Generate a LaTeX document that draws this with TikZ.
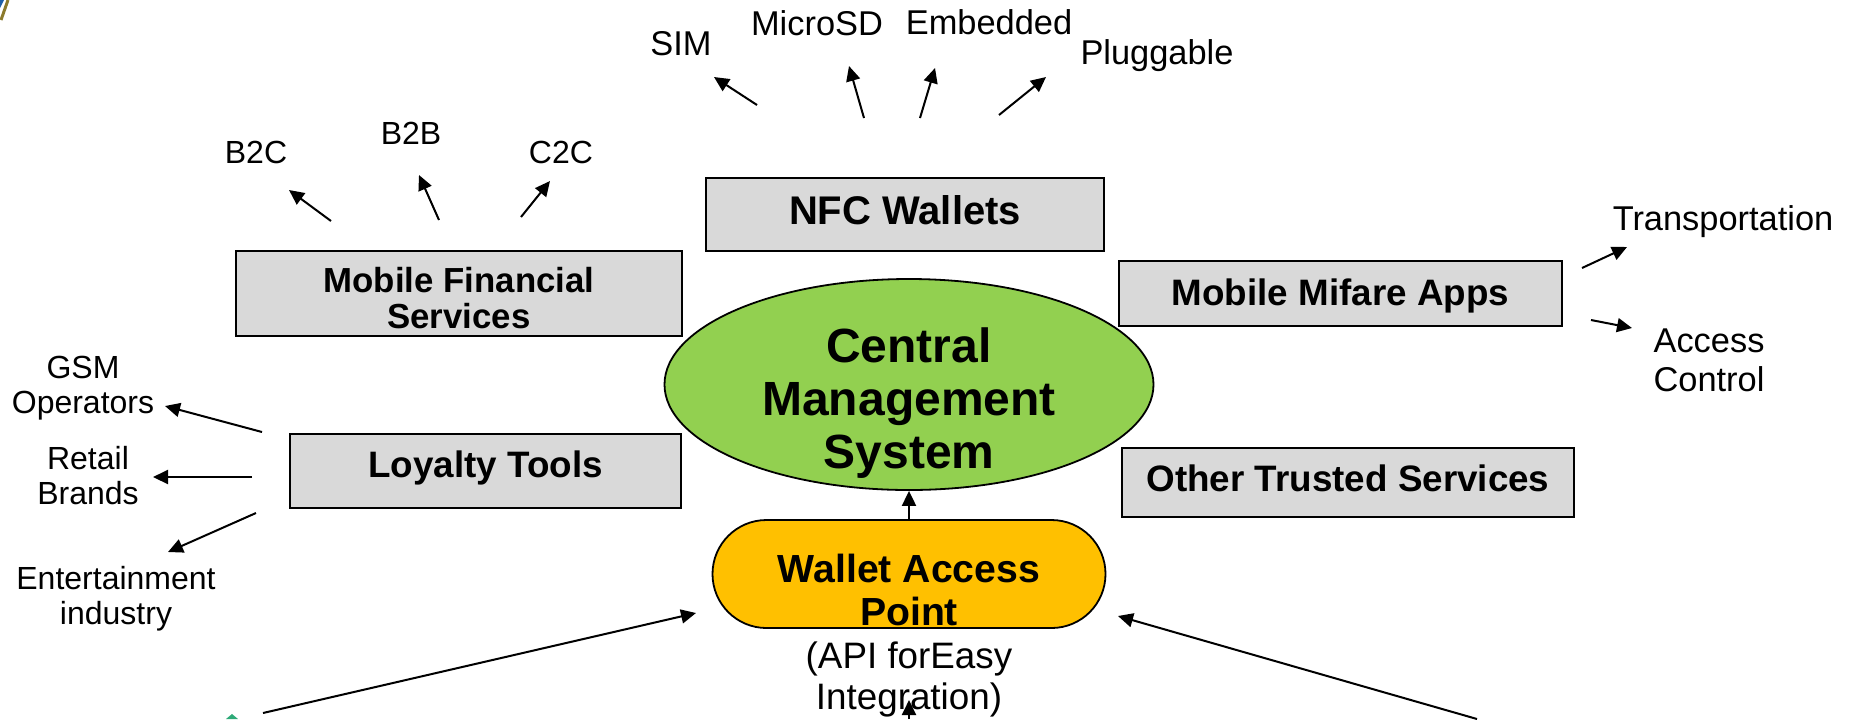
\documentclass[tikz,border=0pt]{standalone}
\usepackage{fontspec}
\setmainfont{Liberation Sans}
\usetikzlibrary{shapes, arrows.meta}
\definecolor{boxgray}{HTML}{D9D9D9}
\definecolor{cmsgreen}{HTML}{92D050}
\definecolor{wapgold}{HTML}{FFC000}
\definecolor{cornerolive}{HTML}{8B7A2C}
\definecolor{cornerblue}{HTML}{1F5FA8}
\definecolor{cornergreen}{HTML}{2EAA78}

\begin{document}
\begin{tikzpicture}[x=0.5pt, y=-0.5pt,
	box/.style={draw, line width=1pt, fill=boxgray, inner sep=0pt, align=center,
		font=\bfseries\fontsize{18.4}{20}\selectfont},
	lbl/.style={inner sep=0pt, align=center, font=\fontsize{16}{17.5}\selectfont},
	toplbl/.style={lbl, font=\fontsize{17.2}{19.5}\selectfont},
	arr/.style={-{Triangle[length=7.5pt,width=7pt]}, line width=1pt}]
	\useasboundingbox (0,0) rectangle (1851,719);
	% bits of the slide frame
	\fill[cornerblue] (0,0) -- (4,0) -- (0,8) -- cycle;
	\draw[cornerolive, line width=1.5pt] (8,0) -- (1,20);
	\fill[cornergreen] (226,719) -- (232,714) -- (238,719) -- cycle;

	% boxes
	\node[box, minimum width=199pt, minimum height=36.5pt, text depth=5pt,
		font=\bfseries\fontsize{20}{22}\selectfont] (nfc) at (905,214.5) {NFC Wallets};
	\node[box, minimum width=223pt, minimum height=42.5pt] (mfs) at (459,293.5) {};
	\node[align=center, inner sep=0pt, font=\bfseries\fontsize{17.4}{18}\selectfont]
		(mfstext) at (459,298.5) {Mobile Financial\\Services};
	\node[box, minimum width=195.5pt, minimum height=37pt, text depth=7.3pt] (loyalty) at (485.5,471) {Loyalty Tools};
	\node[box, minimum width=221.5pt, minimum height=32.5pt, text depth=1.4pt] (mifare) at (1340.5,293.5) {Mobile Mifare Apps};
	\node[box, minimum width=226pt, minimum height=34.5pt, text depth=4.8pt] (trusted) at (1348,482.5) {Other Trusted Services};

	% centre
	\node[ellipse, draw, line width=0.9pt, fill=cmsgreen, inner sep=0pt,
		minimum width=244.5pt, minimum height=105.5pt] (cms) at (909,384.5) {};
	\node[align=center, inner sep=0pt, font=\bfseries\fontsize{24}{26.3}\selectfont]
		(cmstext) at (909,403) {Central\\Management\\System};
	\node[rounded rectangle, draw, line width=0.9pt, fill=wapgold, inner sep=0pt,
		minimum width=196.5pt, minimum height=54pt] (wap) at (909,574) {};
	\node[align=center, inner sep=0pt, font=\bfseries\fontsize{19.6}{21.5}\selectfont]
		(waptext) at (909,590) {Wallet Access\\Point};
	\node[lbl, font=\fontsize{18.4}{20.5}\selectfont] (api) at (909,679) {(API forEasy\\Integration)};

	% outer labels
	\node[toplbl] (sim) at (681,44) {SIM};
	\node[toplbl] (microsd) at (817,23) {MicroSD};
	\node[toplbl] (embedded) at (989,22) {Embedded};
	\node[toplbl] (pluggable) at (1157,56) {Pluggable};
	\node[lbl] (b2c) at (256,152) {B2C};
	\node[lbl] (b2b) at (411,133) {B2B};
	\node[lbl] (c2c) at (561,152) {C2C};
	\node[lbl] (gsm) at (83,388.5) {GSM\\Operators};
	\node[lbl] (retail) at (88,476) {Retail\\Brands};
	\node[lbl] (entertain) at (116,599) {Entertainment\\industry};
	\node[toplbl] (transport) at (1723,222) {Transportation};
	\node[toplbl] (access) at (1709,360) {Access\\Control};

	% arrow ends
	\coordinate (simfrom) at (757,105);       \coordinate (simto) at (714,77);
	\coordinate (microsdfrom) at (864,118);   \coordinate (microsdto) at (849,66);
	\coordinate (embeddedfrom) at (920,118);  \coordinate (embeddedto) at (935,68);
	\coordinate (pluggablefrom) at (999,115); \coordinate (pluggableto) at (1046,77);
	\coordinate (b2cfrom) at (331,221);       \coordinate (b2cto) at (289,190);
	\coordinate (b2bfrom) at (439,220);       \coordinate (b2bto) at (419,175);
	\coordinate (c2cfrom) at (521,217);       \coordinate (c2cto) at (550,181);
	\coordinate (gsmfrom) at (262,432);       \coordinate (gsmto) at (165,406);
	\coordinate (retailfrom) at (252,477);    \coordinate (retailto) at (153,477);
	\coordinate (entfrom) at (256,513);       \coordinate (entto) at (168,552);
	\coordinate (transfrom) at (1582,268);    \coordinate (transto) at (1627,247);
	\coordinate (accessfrom) at (1591,320);   \coordinate (accessto) at (1632,328);
	\coordinate (apifrom) at (909,719);       \coordinate (apito) at (909,700);
	\coordinate (leftfrom) at (263,713);      \coordinate (leftto) at (696,613);
	\coordinate (rightfrom) at (1477,719);    \coordinate (rightto) at (1118,616);

	\draw[arr] (simfrom) -- (simto);
	\draw[arr] (microsdfrom) -- (microsdto);
	\draw[arr] (embeddedfrom) -- (embeddedto);
	\draw[arr] (pluggablefrom) -- (pluggableto);
	\draw[arr] (b2cfrom) -- (b2cto);
	\draw[arr] (b2bfrom) -- (b2bto);
	\draw[arr] (c2cfrom) -- (c2cto);
	\draw[arr] (gsmfrom) -- (gsmto);
	\draw[arr] (retailfrom) -- (retailto);
	\draw[arr] (entfrom) -- (entto);
	\draw[arr] (transfrom) -- (transto);
	\draw[arr] (accessfrom) -- (accessto);
	\draw[arr] (wap.north) -- (cms.south);
	\draw[arr] (apifrom) -- (apito);
	\draw[arr] (leftfrom) -- (leftto);
	\draw[arr] (rightfrom) -- (rightto);
\end{tikzpicture}
\end{document}
